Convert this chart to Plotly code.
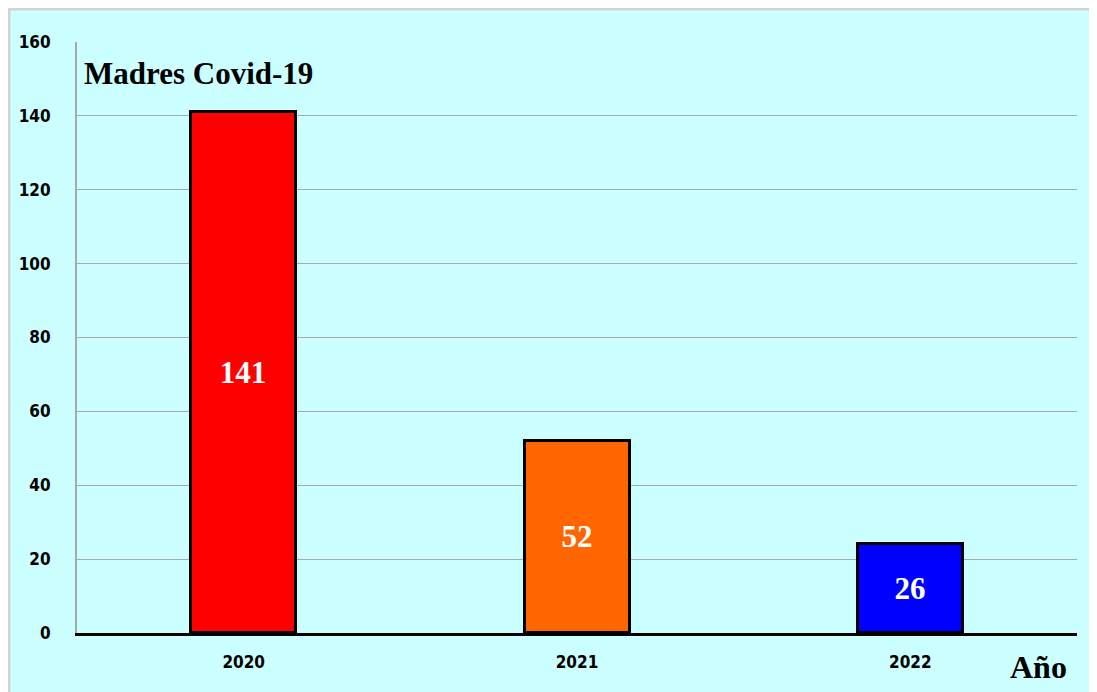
import plotly.graph_objects as go

years = ["2020", "2021", "2022"]
values = [141, 52, 24]
labels = ["141", "52", "26"]
colors = ["#FF0000", "#FF6600", "#0000FF"]
y_ticks = [0, 20, 40, 60, 80, 100, 120, 140, 160]

OFF = 8  # page body margin
W, H = 1097, 692
l, r, t, b = 77 - OFF, 28, 42 - OFF, 692 - (633 - OFF)
pw, ph = W - l - r, H - t - b

def px(x):
    return (x - OFF - l) / pw

def py(y):
    return (H - b - (y - OFF)) / ph

serif = "Liberation Serif, Times New Roman, serif"
narrow = "DejaVu Sans Condensed, Liberation Sans Narrow, Arial Narrow, sans-serif"

fig = go.Figure()
fig.add_trace(go.Bar(
    x=years, y=values, text=labels, textposition="inside", insidetextanchor="middle",
    texttemplate="<b>%{text}</b>",
    textfont=dict(family=serif, size=31, color="white"),
    marker=dict(color=colors, line=dict(color="black", width=3)),
    width=0.315,
))

fig.add_shape(type="rect", xref="paper", yref="paper", x0=px(9), x1=px(1200), y0=py(800), y1=py(9),
              fillcolor="rgba(0,0,0,0)", line=dict(color="#D3D3D3", width=3), layer="below")

fig.add_annotation(text="<b>Madres Covid-19</b>", xref="paper", yref="paper", x=px(82), y=py(74),
                   xanchor="left", yanchor="middle", showarrow=False,
                   font=dict(family=serif, size=31, color="black"))
fig.add_annotation(text="<b>Año</b>", xref="paper", yref="paper", x=px(1069), y=py(667),
                   xanchor="right", yanchor="middle", showarrow=False,
                   font=dict(family=serif, size=32, color="black"))

tickfont = dict(family=narrow, size=17, color="black", weight="bold")
fig.update_layout(
    width=W, height=H, margin=dict(l=l, r=r, t=t, b=b),
    paper_bgcolor="#CCFFFF", plot_bgcolor="rgba(0,0,0,0)",
    showlegend=False, bargap=0,
    xaxis=dict(showgrid=False, showline=True, linecolor="black", linewidth=3, ticks="",
               tickfont=tickfont, ticklabelstandoff=12),
    yaxis=dict(range=[0, 160], tickvals=y_ticks, showgrid=True, gridcolor="#A8A8A8", gridwidth=1,
               showline=True, linecolor="#A8A8A8", linewidth=2, ticks="", zeroline=False,
               tickfont=tickfont, ticklabelstandoff=21),
)
fig.write_html("out.html")
